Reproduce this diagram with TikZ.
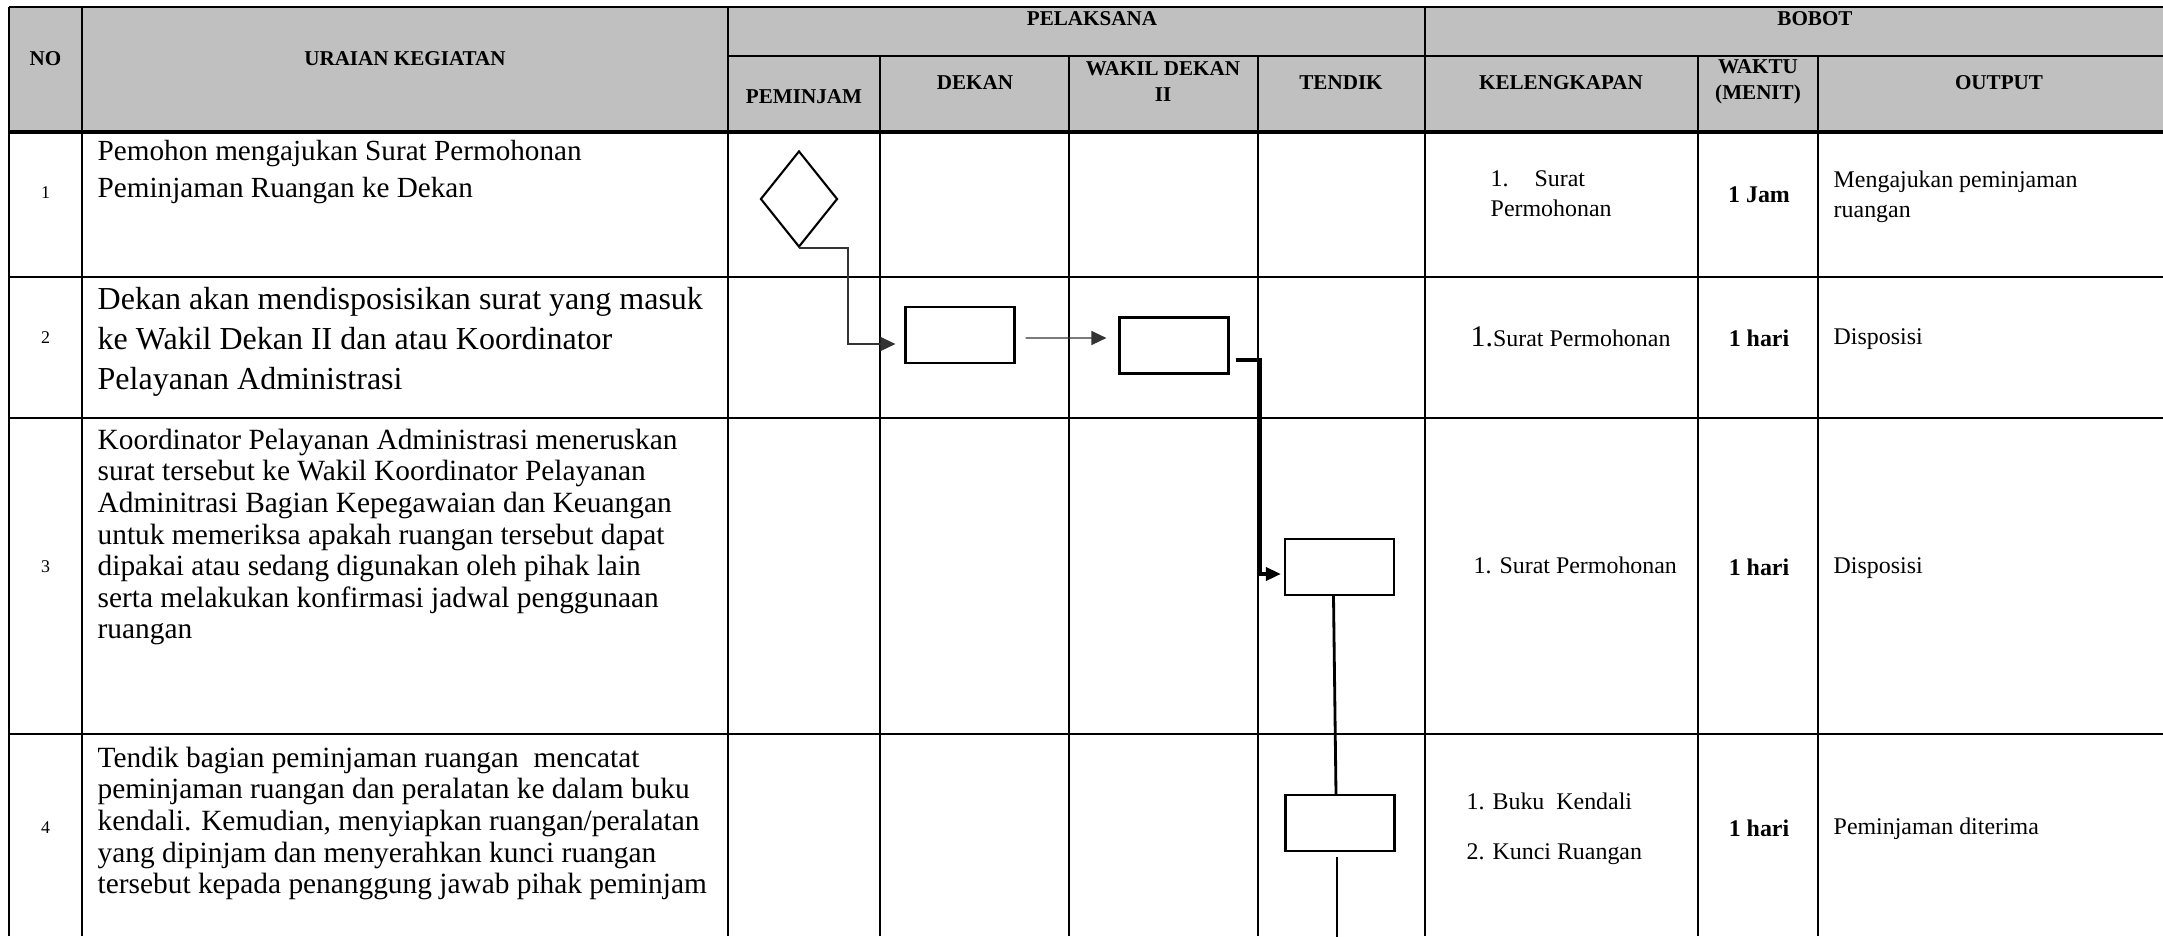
\documentclass[tikz,border=0pt]{standalone}
\usepackage{fontspec}
\setmainfont{Liberation Serif}
\usepackage{xcolor}
\usetikzlibrary{arrows.meta,shapes.geometric}
\definecolor{headgray}{RGB}{192,192,192}

\begin{document}
\begin{tikzpicture}[x=0.01cm,y=-0.01cm,
    tabline/.style={line width=0.6pt},
    box/.style={draw,line width=0.6pt,minimum width=1.09cm,minimum height=0.56cm,inner sep=0pt},
    dmd/.style={draw,diamond,line width=0.6pt,minimum width=0.77cm,minimum height=0.96cm,inner sep=0pt},
    flowline/.style={line width=0.4pt,black!80,-{Triangle[length=0.15cm,width=0.14cm]}},
    thickflow/.style={line width=1pt,-{Triangle[length=0.15cm,width=0.13cm]}},
    vline/.style={line width=0.8pt},
    hd/.style={inner sep=0pt,align=center,font=\fontsize{6}{7.4}\selectfont\bfseries},
    num/.style={inner sep=0pt,font=\fontsize{5.1}{6}\selectfont},
    txt/.style={inner sep=0pt,align=left,anchor=north west},
    small/.style={inner sep=0pt,align=left,font=\fontsize{6.8}{8.5}\selectfont}]
    \useasboundingbox (0,0) rectangle (2163,936);

    % header background
    \fill[headgray] (9,7) rectangle (2163,132);

    % horizontal lines
    \draw[tabline] (9,7) -- (2163,7);
    \draw[tabline] (728,56) -- (2163,56);
    \draw[tabline,line width=0.9pt] (9,132) -- (2163,132);
    \foreach \y in {277,418,734}
        \draw[tabline] (9,\y) -- (2163,\y);

    % vertical lines
    \foreach \x in {9,82,728,1425}
        \draw[tabline] (\x,7) -- (\x,936);
    \foreach \x in {880,1069,1258,1698,1818}
        \draw[tabline] (\x,56) -- (\x,936);

    % header texts
    \node[hd] (hno) at (45.5,59) {NO};
    \node[hd] (hurai) at (405,59) {URAIAN KEGIATAN};
    \node[hd] (hpel) at (1092,19) {PELAKSANA};
    \node[hd] (hbob) at (1815,19) {BOBOT};
    \node[hd] (hpem) at (804,97) {PEMINJAM};
    \node[hd] (hdek) at (975,83) {DEKAN};
    \node[hd] (hwak) at (1163,82) {WAKIL DEKAN\\II};
    \node[hd] (hten) at (1341,83) {TENDIK};
    \node[hd] (hkel) at (1561,83) {KELENGKAPAN};
    \node[hd] (hwkt) at (1758,82) {WAKTU\\(MENIT)};
    \node[hd] (hout) at (1999,83) {OUTPUT};

    % row numbers
    \node[num] (n1) at (45.5,193) {1};
    \node[num] (n2) at (45.5,338) {2};
    \node[num] (n3) at (45.5,567) {3};
    \node[num] (n4) at (45.5,828) {4};

    % activities
    \node[txt,font=\fontsize{8.3}{10.5}\selectfont] (u1) at (97,140)
        {Pemohon mengajukan Surat Permohonan\\Peminjaman Ruangan ke Dekan};
    \node[txt,font=\fontsize{9.1}{11.25}\selectfont] (u2) at (97,287)
        {Dekan akan mendisposisikan surat yang masuk\\ke Wakil Dekan II dan atau Koordinator\\Pelayanan Administrasi};
    \node[txt,font=\fontsize{8.35}{9}\selectfont] (u3) at (97,428)
        {Koordinator Pelayanan Administrasi meneruskan\\surat tersebut ke Wakil Koordinator Pelayanan\\Adminitrasi Bagian Kepegawaian dan Keuangan\\untuk memeriksa apakah ruangan tersebut dapat\\dipakai atau sedang digunakan oleh pihak lain\\serta melakukan konfirmasi jadwal penggunaan\\ruangan};
    \node[txt,font=\fontsize{8.35}{9}\selectfont] (u4) at (97,746)
        {Tendik bagian peminjaman ruangan~ mencatat\\peminjaman ruangan dan peralatan ke dalam buku\\kendali. Kemudian, menyiapkan ruangan/peralatan\\yang dipinjam dan menyerahkan kunci ruangan\\tersebut kepada penanggung jawab pihak peminjam};

    % kelengkapan
    \node[small,anchor=north west] (k1) at (1490,170) {1.\hspace{0.26cm}Surat\\Permohonan};
    \node[small,anchor=base west] (k2) at (1470,346) {{\fontsize{8.5}{10}\selectfont 1.}Surat Permohonan};
    \node[small,anchor=base west] (k3) at (1473,573) {1. Surat Permohonan};
    \node[small,anchor=base west] (k4a) at (1466,809) {1. Buku~ Kendali};
    \node[small,anchor=base west] (k4b) at (1466,859) {2. Kunci Ruangan};

    % waktu
    \node[small,font=\fontsize{6.8}{8.5}\selectfont\bfseries] (w1) at (1759,195) {1 Jam};
    \node[small,font=\fontsize{6.8}{8.5}\selectfont\bfseries] (w2) at (1759,338) {1 hari};
    \node[small,font=\fontsize{6.8}{8.5}\selectfont\bfseries] (w3) at (1759,567) {1 hari};
    \node[small,font=\fontsize{6.8}{8.5}\selectfont\bfseries] (w4) at (1759,828) {1 hari};

    % output
    \node[small,anchor=north west] (o1) at (1833,170) {Mengajukan peminjaman\\ruangan};
    \node[small,anchor=base west] (o2) at (1833,344) {Disposisi};
    \node[small,anchor=base west] (o3) at (1833,573) {Disposisi};
    \node[small,anchor=base west] (o4) at (1833,834) {Peminjaman diterima};

    % flow symbols
    \node[dmd] (d1) at (799,199) {};
    \node[box] (b1) at (960,335) {};
    \node[box] (b2) at (1174,345.5) {};
    \node[box] (b3) at (1339.5,567) {};
    \node[box] (b4) at (1340,823) {};

    % connectors
    \draw[flowline] (d1.south) -- ++(49,0) |- ([xshift=-0.09cm,yshift=-0.09cm]b1.west);
    \draw[flowline] ([xshift=0.1cm,yshift=-0.03cm]b1.east) -- ([xshift=-0.12cm,yshift=0.075cm]b2.west);
    \draw[thickflow] ([xshift=0.06cm,yshift=-0.145cm]b2.east) -- ++(25,0) |- ([xshift=-0.03cm,yshift=-0.07cm]b3.west);
    \draw[vline] ([xshift=-0.06cm]b3.south) -- ([xshift=-0.04cm]b4.north);
    \draw[vline] ([xshift=-0.03cm,yshift=-0.05cm]b4.south) -- ++(0,90);
\end{tikzpicture}
\end{document}
